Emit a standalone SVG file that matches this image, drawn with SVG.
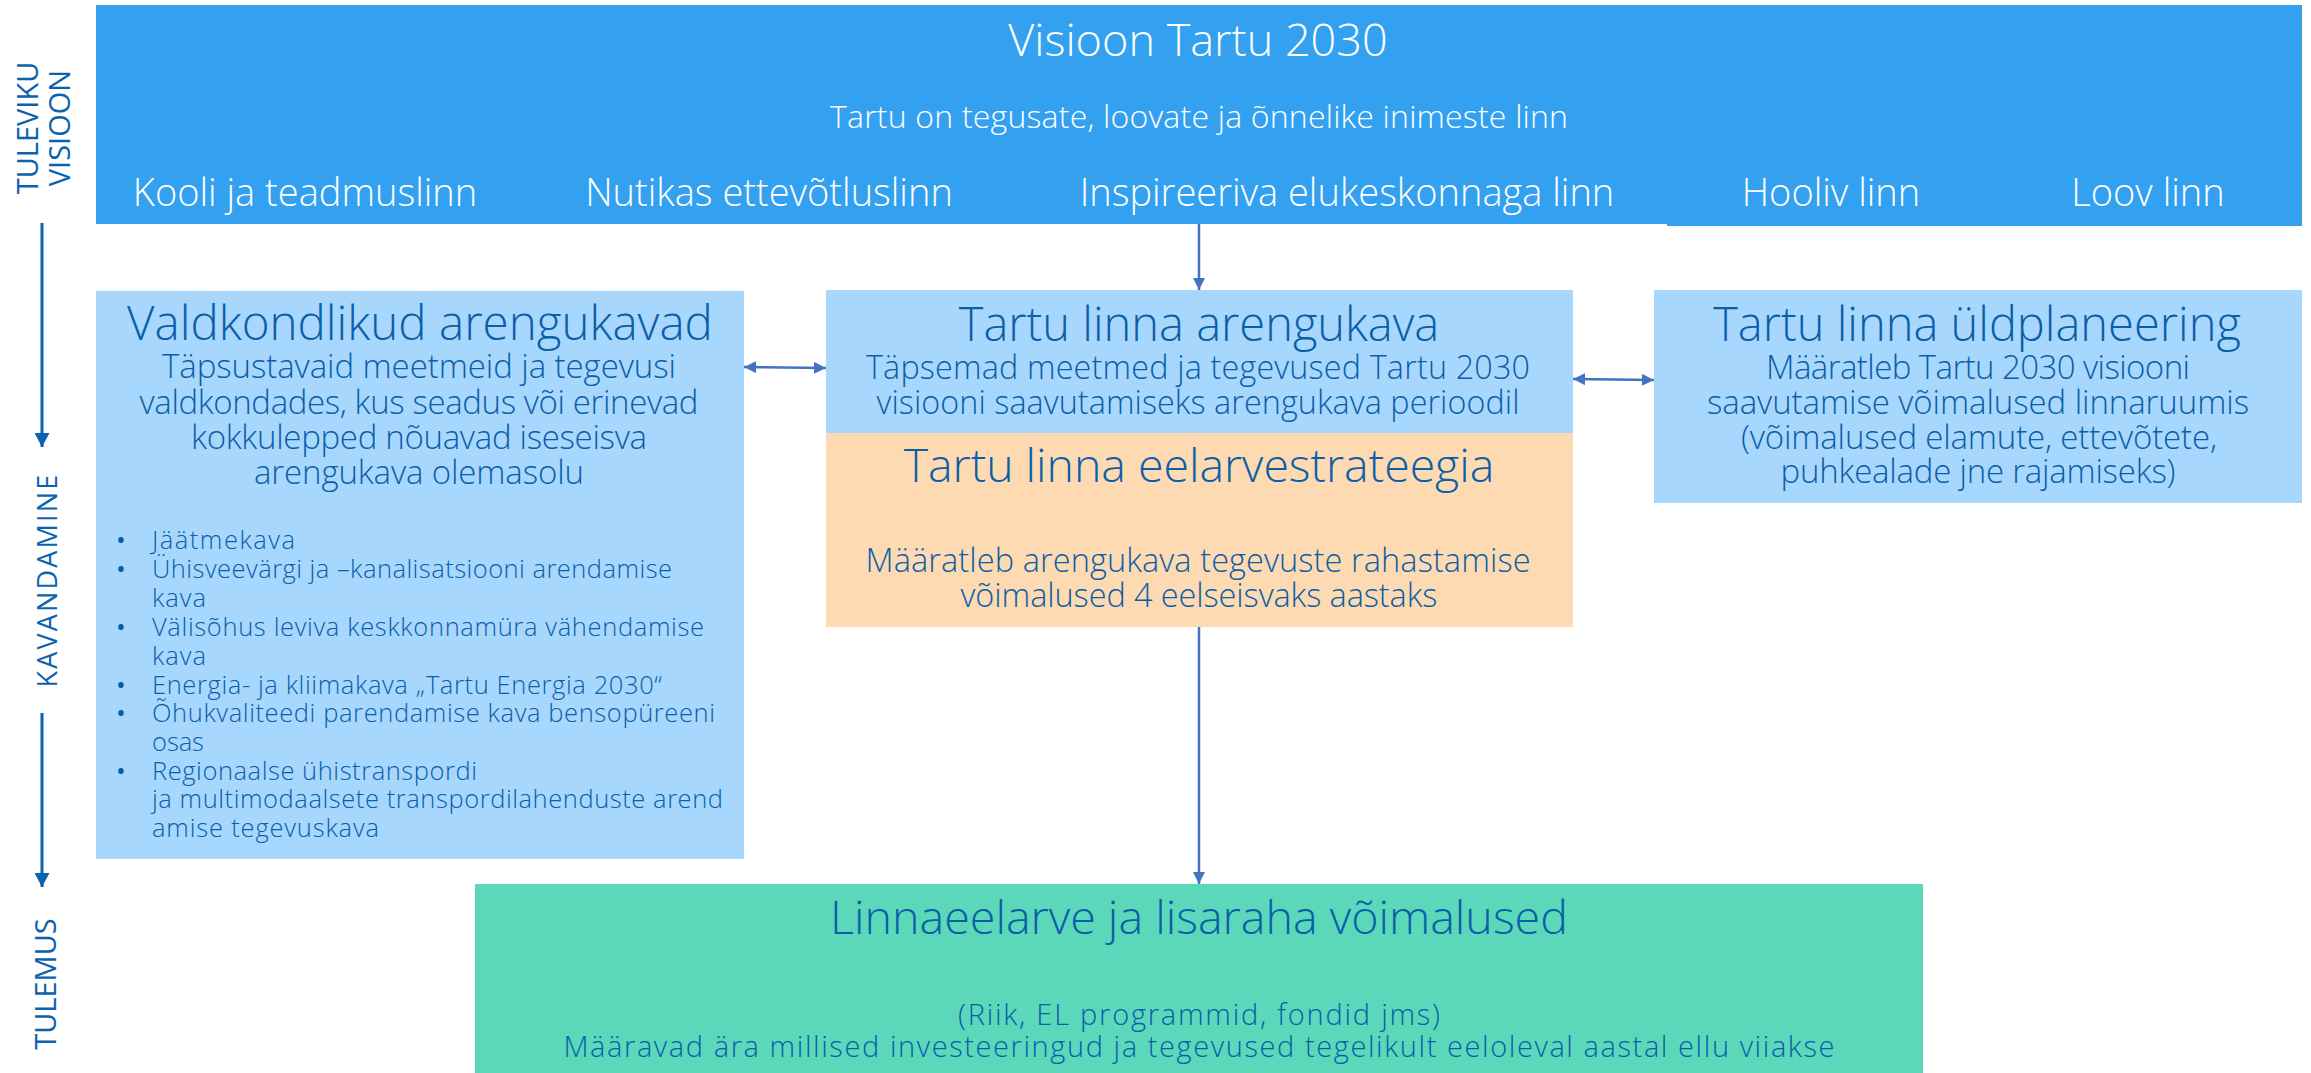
<svg xmlns="http://www.w3.org/2000/svg" width="2311" height="1073" viewBox="0 0 2311 1073">
<defs>
<style>
text{font-family:"Open Sans","Noto Sans","Liberation Sans",sans-serif;font-weight:300}
.w{fill:#ffffff}
.d{fill:#0B5EA8}
.c{text-anchor:middle}
.side{fill:#0B63AE;font-weight:400;text-anchor:middle}
.conn{stroke:#4472C4;stroke-width:2.5;fill:none}
.side-conn{stroke:#0B63AE;stroke-width:3;fill:none}
.ttl{font-size:47px}
.sub{font-size:33px}
.bl{font-size:25.5px}
.dot{font-size:26px;font-weight:400}
</style>
<marker id="ah" viewBox="0 0 12 12" refX="12" refY="6" markerWidth="12" markerHeight="12" markerUnits="userSpaceOnUse" orient="auto-start-reverse">
<path d="M0,0 L12,6 L0,12 Z" fill="#4472C4"/>
</marker>
<marker id="ahs" viewBox="0 0 14 15" refX="14" refY="7.5" markerWidth="14" markerHeight="15" markerUnits="userSpaceOnUse" orient="auto">
<path d="M0,0 L14,7.5 L0,15 Z" fill="#0B63AE"/>
</marker>
</defs>
<rect width="2311" height="1073" fill="#ffffff"/>

<g id="labels">
<text class="side" font-size="29" transform="translate(38,128) rotate(-90)">TULEVIKU</text>
<text class="side" font-size="29" transform="translate(70,128) rotate(-90)">VISIOON</text>
<text class="side" font-size="27" letter-spacing="2.2" transform="translate(57,580) rotate(-90)">KAVANDAMINE</text>
<text class="side" font-size="29" transform="translate(56,984) rotate(-90)">TULEMUS</text>
<line class="side-conn" x1="42" y1="223" x2="42" y2="447" marker-end="url(#ahs)"/>
<line class="side-conn" x1="42" y1="713" x2="42" y2="887" marker-end="url(#ahs)"/>
</g>

<g id="vision">
<rect x="96" y="5" width="2206" height="219" fill="#33A1F0"/>
<rect x="1667" y="5" width="635" height="221" fill="#33A1F0"/>
<text class="w c" x="1198" y="56" font-size="45">Visioon Tartu 2030</text>
<text class="w c" x="1199" y="128" font-size="32" textLength="738">Tartu on tegusate, loovate ja õnnelike inimeste linn</text>
<text class="w c" x="305" y="206" font-size="38">Kooli ja teadmuslinn</text>
<text class="w c" x="769" y="206" font-size="38">Nutikas ettevõtluslinn</text>
<text class="w c" x="1347" y="206" font-size="38">Inspireeriva elukeskonnaga linn</text>
<text class="w c" x="1831" y="206" font-size="38">Hooliv linn</text>
<text class="w c" x="2148" y="206" font-size="38">Loov linn</text>
</g>

<g id="valdkondlikud">
<rect x="96" y="291" width="648" height="568" fill="#A7D7FD"/>
<text class="d c" x="420" y="340" font-size="47.5">Valdkondlikud arengukavad</text>
<text class="d c sub" x="419" y="378" textLength="514">Täpsustavaid meetmeid ja tegevusi</text>
<text class="d c sub" x="419" y="414" textLength="559">valdkondades, kus seadus või erinevad</text>
<text class="d c sub" x="419" y="449" textLength="456">kokkulepped nõuavad iseseisva</text>
<text class="d c sub" x="419" y="484" textLength="330">arengukava olemasolu</text>
<text class="d dot" x="116" y="549">•</text>
<text class="d dot" x="116" y="578">•</text>
<text class="d dot" x="116" y="636">•</text>
<text class="d dot" x="116" y="694">•</text>
<text class="d dot" x="116" y="722">•</text>
<text class="d dot" x="116" y="780">•</text>
<text class="d bl" x="152" y="549" textLength="143">Jäätmekava</text>
<text class="d bl" x="152" y="578" textLength="520">Ühisveevärgi ja –kanalisatsiooni arendamise</text>
<text class="d bl" x="152" y="607" textLength="54">kava</text>
<text class="d bl" x="152" y="636" textLength="552">Välisõhus leviva keskkonnamüra vähendamise</text>
<text class="d bl" x="152" y="665" textLength="54">kava</text>
<text class="d bl" x="152" y="694" textLength="510">Energia- ja kliimakava „Tartu Energia 2030“</text>
<text class="d bl" x="152" y="722" textLength="563">Õhukvaliteedi parendamise kava bensopüreeni</text>
<text class="d bl" x="152" y="751" textLength="52">osas</text>
<text class="d bl" x="152" y="780" textLength="325">Regionaalse ühistranspordi</text>
<text class="d bl" x="152" y="808" textLength="571">ja multimodaalsete transpordilahenduste arend</text>
<text class="d bl" x="152" y="837" textLength="227">amise tegevuskava</text>
</g>

<g id="arengukava">
<rect x="826" y="290" width="747" height="143" fill="#A7D7FD"/>
<text class="d c ttl" x="1199" y="341">Tartu linna arengukava</text>
<text class="d c" x="1198" y="379" font-size="32.3" textLength="664">Täpsemad meetmed ja tegevused Tartu 2030</text>
<text class="d c" x="1198" y="414" font-size="32.3" textLength="643">visiooni saavutamiseks arengukava perioodil</text>
</g>

<g id="eelarvestrateegia">
<rect x="826" y="433" width="747" height="194" fill="#FDDAB1"/>
<text class="d c" x="1199" y="482" font-size="46.4">Tartu linna eelarvestrateegia</text>
<text class="d c" x="1198" y="572" font-size="32.5" textLength="665">Määratleb arengukava tegevuste rahastamise</text>
<text class="d c" x="1199" y="607" font-size="32.5" textLength="477">võimalused 4 eelseisvaks aastaks</text>
</g>

<g id="yldplaneering">
<rect x="1654" y="290" width="648" height="213" fill="#A7D7FD"/>
<text class="d c ttl" x="1977" y="341">Tartu linna üldplaneering</text>
<text class="d c sub" x="1978" y="379" textLength="424">Määratleb Tartu 2030 visiooni</text>
<text class="d c sub" x="1978" y="414" textLength="542">saavutamise võimalused linnaruumis</text>
<text class="d c sub" x="1979" y="449" textLength="476">(võimalused elamute, ettevõtete,</text>
<text class="d c sub" x="1978" y="483" textLength="395">puhkealade jne rajamiseks)</text>
</g>

<g id="linnaeelarve">
<rect x="475" y="884" width="1448" height="189" fill="#5BD7BA"/>
<text class="d c" x="1199" y="934" font-size="46.6">Linnaeelarve ja lisaraha võimalused</text>
<text class="d c" x="1199" y="1025" font-size="29" textLength="482">(Riik, EL programmid, fondid jms)</text>
<text class="d c" x="1199" y="1057" font-size="29" textLength="1271">Määravad ära millised investeeringud ja tegevused tegelikult eeloleval aastal ellu viiakse</text>
</g>

<g id="connectors">
<line class="conn" x1="1199" y1="224" x2="1199" y2="290" marker-end="url(#ah)"/>
<line class="conn" x1="744" y1="367" x2="826" y2="368" marker-start="url(#ah)" marker-end="url(#ah)"/>
<line class="conn" x1="1573" y1="379" x2="1654" y2="380" marker-start="url(#ah)" marker-end="url(#ah)"/>
<line class="conn" x1="1199" y1="627" x2="1199" y2="884" marker-end="url(#ah)"/>
</g>
</svg>
